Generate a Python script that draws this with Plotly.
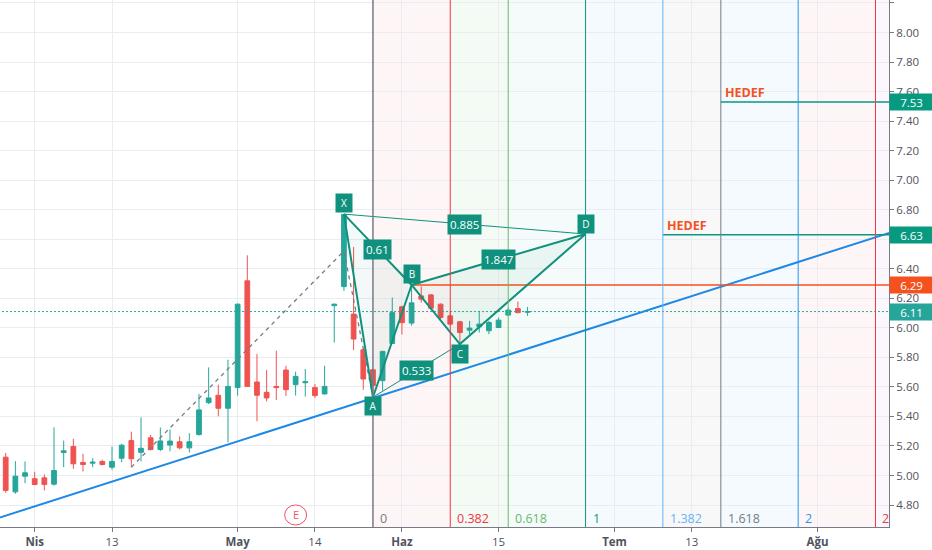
import plotly.graph_objects as go

# ---------------- data ----------------
dates = ["2020-03-27", "2020-03-30", "2020-03-31", "2020-04-01", "2020-04-02", "2020-04-03",
         "2020-04-06", "2020-04-07", "2020-04-08", "2020-04-09", "2020-04-10", "2020-04-13",
         "2020-04-14", "2020-04-15", "2020-04-16", "2020-04-17", "2020-04-20", "2020-04-21",
         "2020-04-22", "2020-04-24", "2020-04-27", "2020-04-28", "2020-04-29", "2020-04-30",
         "2020-05-04", "2020-05-05", "2020-05-06", "2020-05-07", "2020-05-08", "2020-05-11",
         "2020-05-12", "2020-05-13", "2020-05-14", "2020-05-15", "2020-05-18", "2020-05-20",
         "2020-05-21", "2020-05-22", "2020-05-27", "2020-05-28", "2020-05-29", "2020-06-01",
         "2020-06-02", "2020-06-03", "2020-06-04", "2020-06-05", "2020-06-08", "2020-06-09",
         "2020-06-10", "2020-06-11", "2020-06-12", "2020-06-15", "2020-06-16", "2020-06-17",
         "2020-06-18"]
opens = [5.124, 4.889, 4.995, 4.978, 4.984, 4.941, 5.155, 5.196, 5.088, 5.083, 5.095, 5.056,
         5.117, 5.236, 5.157, 5.255, 5.176, 5.206, 5.228, 5.187, 5.277, 5.493, 5.543, 5.455,
         5.595, 6.318, 5.633, 5.563, 5.603, 5.714, 5.615, 5.628, 5.595, 5.552, 6.150, 6.279,
         6.093, 5.851, 5.716, 5.642, 5.894, 6.142, 6.032, 6.216, 6.223, 6.160, 6.081, 6.041,
         5.984, 6.007, 5.980, 6.002, 6.086, 6.130, 6.105]
highs = [5.153, 5.097, 5.095, 5.025, 5.007, 5.326, 5.236, 5.248, 5.147, 5.117, 5.106, 5.196,
         5.214, 5.297, 5.394, 5.275, 5.324, 5.311, 5.264, 5.286, 5.552, 5.732, 5.615, 5.784,
         6.165, 6.491, 5.822, 5.714, 5.845, 5.743, 5.703, 5.721, 5.620, 5.743, 6.165, 6.770,
         6.547, 5.860, 5.720, 5.845, 6.205, 6.150, 6.290, 6.280, 6.230, 6.165, 6.115, 6.047,
         6.047, 6.115, 6.047, 6.070, 6.137, 6.178, 6.142]
lows = [4.883, 4.876, 4.948, 4.934, 4.899, 4.932, 5.056, 5.045, 5.027, 5.056, 5.068, 5.038,
        5.090, 5.056, 5.095, 5.169, 5.164, 5.164, 5.176, 5.155, 5.270, 5.484, 5.401, 5.225,
        5.541, 5.600, 5.367, 5.502, 5.511, 5.539, 5.541, 5.534, 5.525, 5.550, 5.900, 6.250,
        5.849, 5.580, 5.530, 5.575, 5.890, 5.955, 6.014, 6.171, 6.120, 6.059, 6.014, 5.890,
        5.957, 5.968, 5.957, 6.000, 6.080, 6.097, 6.081]
closes = [4.899, 4.995, 5.018, 4.939, 4.939, 5.034, 5.167, 5.079, 5.074, 5.090, 5.074, 5.095,
          5.205, 5.113, 5.184, 5.176, 5.234, 5.233, 5.187, 5.228, 5.444, 5.525, 5.455, 5.603,
          6.160, 5.603, 5.543, 5.525, 5.595, 5.581, 5.671, 5.635, 5.541, 5.603, 6.160, 6.768,
          5.924, 5.653, 5.610, 5.840, 6.103, 6.035, 6.169, 6.194, 6.133, 6.070, 6.025, 5.968,
          5.998, 6.025, 6.036, 6.052, 6.120, 6.103, 6.110]
first_bar = -3          # bar number of the first date (1 Apr 2020 = bar 0)

tick_bars = [0, 8, 21, 29, 38, 48, 60, 68, 81]
tick_text = ["<b>Nis</b>", "13", "<b>May</b>", "14", "<b>Haz</b>", "15", "<b>Tem</b>", "13", "<b>Ağu</b>"]

# XABCD pattern
pat_labels = ["X", "A", "B", "C", "D"]
pat_bars = [32, 35, 39, 44, 57]
pat_prices = [6.77, 5.53, 6.29, 5.89, 6.635]
ratio_pairs = [(0, 2), (1, 3), (2, 4), (0, 4)]
ratio_text = ["0.61", "0.533", "1.847", "0.885"]
ratio_width = [2, 1, 2, 1]

# Fibonacci time zones
fib_levels = [0, 0.382, 0.618, 1, 1.382, 1.618, 2, 2.382]
fib_start_bar = 35
fib_length = 22
fib_text = ["0", "0.382", "0.618", "1", "1.382", "1.618", "2", "2"]
fib_colors = ["#787b86", "#f23645", "#66bb6a", "#089981", "#64b5f6", "#787b86", "#2196f3", "#f23645"]
fib_fill = ["rgba(242,54,69,0.05)", "rgba(102,187,106,0.07)", "rgba(8,153,129,0.04)",
            "rgba(100,181,246,0.07)", "rgba(120,123,134,0.05)", "rgba(33,150,243,0.05)",
            "rgba(242,54,69,0.05)", "rgba(156,39,176,0.04)"]

# trend line and dashed swing
trend_bars = [-4, 89]
trend_prices = [4.707, 6.655]
swing_bars = [10, 32, 35]
swing_prices = [5.056, 6.52, 5.53]

# horizontal levels
target_prices = [7.53, 6.63]
target_bars = [71, 65]
resist_price = 6.29
resist_bar = 39
last_price = 6.11
earnings_bar = 27

X_RANGE = [-3.59, 88.40]
Y_RANGE = [4.651, 8.220]

PAT = "#10917d"
UP = "#26a69a"
DN = "#ef5350"
ORANGE = "#f4511e"
FONT = "Open Sans"

bars = list(range(first_bar, first_bar + len(dates)))
fib_bars = [fib_start_bar + round(l * fib_length) for l in fib_levels]

fig = go.Figure()

# fib zones
for k, fb in enumerate(fib_bars):
    nxt = fib_bars[k + 1] if k + 1 < len(fib_bars) else 100
    fig.add_shape(type="rect", xref="x", yref="paper", x0=fb, x1=nxt, y0=0, y1=1,
                  fillcolor=fib_fill[k], line_width=0, layer="below")
    fig.add_shape(type="line", xref="x", yref="paper", x0=fb, x1=fb, y0=0, y1=1,
                  line=dict(color=fib_colors[k], width=1.5 if k == 0 else 1))
    fig.add_annotation(x=fb, y=0.016, xref="x", yref="paper", text=fib_text[k], showarrow=False,
                       xanchor="left", yanchor="middle", xshift=5,
                       font=dict(family=FONT, size=12.5, color=fib_colors[k]))

# trend line
fig.add_trace(go.Scatter(x=trend_bars, y=trend_prices, mode="lines",
                         line=dict(color="#1e88e5", width=2), hoverinfo="skip"))
# dashed swing
fig.add_trace(go.Scatter(x=swing_bars, y=swing_prices, mode="lines",
                         line=dict(color="#787b86", width=1.3, dash="4px,4px"), hoverinfo="skip"))

# triangles fill
for tri in [(0, 1, 2), (2, 3, 4)]:
    fig.add_trace(go.Scatter(x=[pat_bars[t] for t in tri] + [pat_bars[tri[0]]],
                             y=[pat_prices[t] for t in tri] + [pat_prices[tri[0]]],
                             mode="lines", fill="toself", fillcolor="rgba(16,145,125,0.05)",
                             line=dict(width=0), hoverinfo="skip"))

# candles
fig.add_trace(go.Candlestick(x=bars, open=opens, high=highs, low=lows, close=closes,
                             increasing=dict(line=dict(color=UP, width=1), fillcolor=UP),
                             decreasing=dict(line=dict(color=DN, width=1), fillcolor=DN),
                             whiskerwidth=0, hoverinfo="skip"))

# last price dotted
fig.add_trace(go.Scatter(x=[-10, 100], y=[last_price, last_price], mode="lines",
                         line=dict(color=UP, width=1, dash="2px,2px"), hoverinfo="skip"))
# resistance
fig.add_trace(go.Scatter(x=[resist_bar, 100], y=[resist_price, resist_price], mode="lines",
                         line=dict(color=ORANGE, width=1.5), hoverinfo="skip"))
# targets
for tp, tb in zip(target_prices, target_bars):
    fig.add_trace(go.Scatter(x=[tb, 100], y=[tp, tp], mode="lines",
                             line=dict(color="#089981", width=1.5), hoverinfo="skip"))
    fig.add_annotation(x=tb, y=tp, xref="x", yref="y", text="<b>HEDEF</b>", showarrow=False,
                       xanchor="left", yanchor="bottom", xshift=2, yshift=-1,
                       font=dict(family=FONT, size=12.5, color=ORANGE))

# ratio lines
for (a, b), w in zip(ratio_pairs, ratio_width):
    fig.add_trace(go.Scatter(x=[pat_bars[a], pat_bars[b]], y=[pat_prices[a], pat_prices[b]],
                             mode="lines", line=dict(color=PAT, width=w), hoverinfo="skip"))
# main pattern legs
fig.add_trace(go.Scatter(x=pat_bars, y=pat_prices, mode="lines",
                         line=dict(color=PAT, width=2), hoverinfo="skip"))

# ratio labels
for (a, b), t in zip(ratio_pairs, ratio_text):
    fig.add_annotation(x=(pat_bars[a] + pat_bars[b]) / 2, y=(pat_prices[a] + pat_prices[b]) / 2,
                       xref="x", yref="y", text=t, showarrow=False, bgcolor=PAT, borderpad=2,
                       font=dict(family=FONT, size=11.5, color="white"))
# point labels
shifts = [11, -9, 11, -10, 10]
for lab, pb, pp, s in zip(pat_labels, pat_bars, pat_prices, shifts):
    fig.add_annotation(x=pb, y=pp, xref="x", yref="y", text=lab, showarrow=False,
                       yshift=s, bgcolor=PAT, borderpad=2, width=12,
                       font=dict(family=FONT, size=10, color="white"))

# earnings marker
fig.add_shape(type="circle", xref="x", yref="paper", xsizemode="pixel", ysizemode="pixel",
              xanchor=earnings_bar, yanchor=0.0228, x0=-11, x1=11, y0=-10, y1=10,
              line=dict(color="#f7525f", width=1), fillcolor="white")
fig.add_annotation(x=earnings_bar, y=0.0228, xref="x", yref="paper", text="E", showarrow=False,
                   xanchor="center", yanchor="middle",
                   font=dict(family=FONT, size=11, color="#f7525f"))

# price axis boxes
for pr, col in zip([7.53, 6.63, resist_price, last_price], ["#089981", "#089981", ORANGE, UP]):
    fig.add_annotation(x=1, y=pr, xref="paper", yref="y", text=f"{pr:.2f}", showarrow=False,
                       xanchor="left", yanchor="middle", bgcolor=col, borderpad=2, width=39,
                       height=12, font=dict(family=FONT, size=11.5, color="white"))

fig.update_layout(
    width=932, height=550, margin=dict(l=0, r=43, t=0, b=23),
    paper_bgcolor="white", plot_bgcolor="white", showlegend=False,
    font=dict(family=FONT, size=11, color="#50535e"),
    xaxis=dict(range=X_RANGE, tickvals=tick_bars, ticktext=tick_text, showgrid=True,
               gridcolor="#e9edf3", zeroline=False, showline=True, linecolor="#787b86",
               ticks="outside", ticklen=4, tickcolor="#787b86", rangeslider=dict(visible=False),
               tickfont=dict(size=11.5, color="#50535e")),
    yaxis=dict(range=Y_RANGE, side="right", dtick=0.2, tick0=4.8, tickformat=".2f",
               showgrid=True, gridcolor="#e9edf3", zeroline=False, showline=True,
               linecolor="#787b86", ticks="outside", ticklen=4, tickcolor="#787b86",
               tickfont=dict(size=11.5, color="#50535e")),
)

fig.write_html("out.html")
